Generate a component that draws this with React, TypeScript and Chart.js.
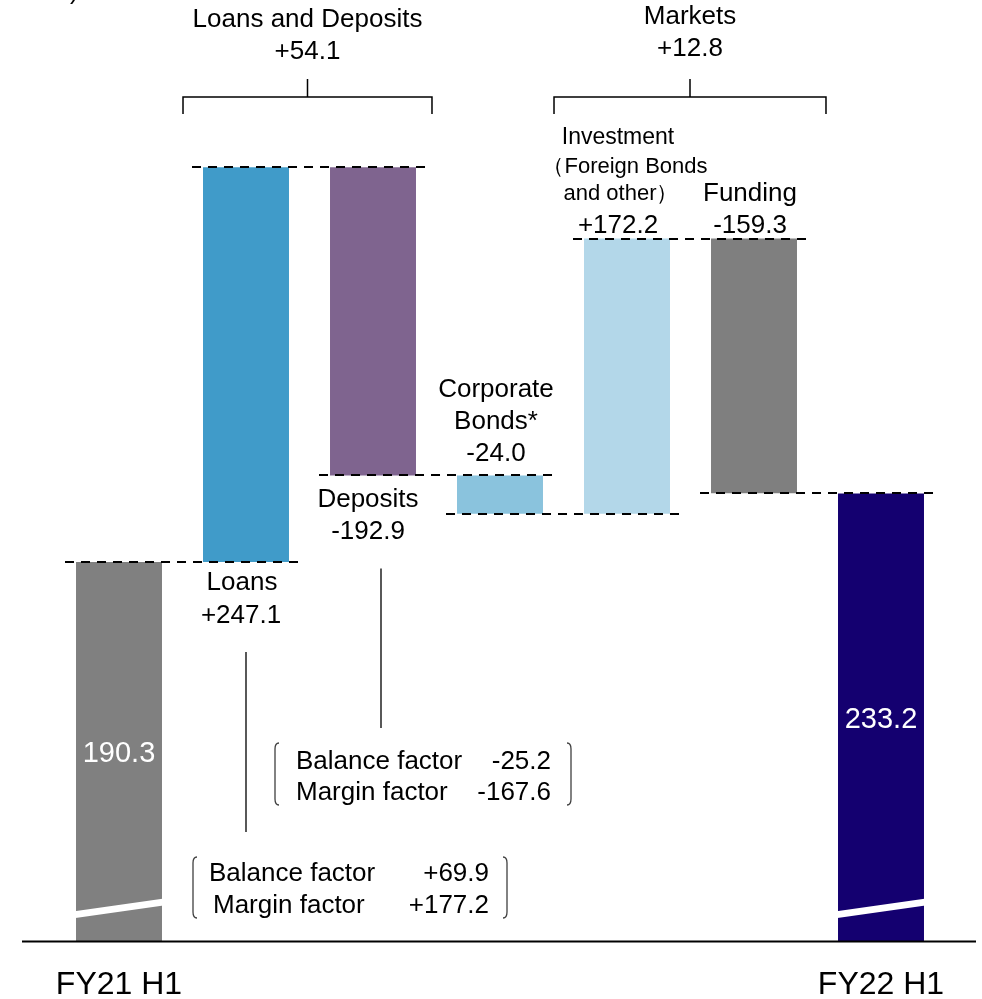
import React, { useEffect, useRef } from 'react';
import { Chart, registerables } from 'chart.js';

Chart.register(...registerables);

// ---------- data ----------
const categories = ['FY21 H1', 'Loans', 'Deposits', 'Corporate Bonds*', 'Investment (Foreign Bonds and other)', 'Funding', 'FY22 H1'];
const tickLabels = ['FY21 H1', '', '', '', '', '', 'FY22 H1'];
const startValue = 190.3;
const changes = [247.1, -192.9, -24.0, 172.2, -159.3];
const endValue = 233.2;
const groupNames = ['Loans and Deposits', 'Markets'];
const groupTotals = [54.1, 12.8];
const factorNames = ['Balance factor', 'Margin factor'];
const loanFactors = [69.9, 177.2];
const depositFactors = [-25.2, -167.6];
const Y_MIN = -47.2;
const Y_MAX = 542.0;

const barColors = ['#808080', '#409BC9', '#7F648F', '#8AC3DD', '#B3D7E9', '#7F7F7F', '#140070'];

// running levels of the waterfall
const levels: number[] = [startValue];
changes.forEach((c) => levels.push(Math.round((levels[levels.length - 1] + c) * 10) / 10));
const barData: [number, number][] = [
  [Y_MIN, startValue],
  ...changes.map((c, i) => [levels[i], levels[i + 1]] as [number, number]),
  [Y_MIN, endValue],
];

const fmt = (v: number) => (v > 0 ? '+' : '') + v.toFixed(1);
const FONT = '"Liberation Sans", Arial, Helvetica, sans-serif';
const MAIN = 26;

function text(ctx: CanvasRenderingContext2D, s: string, x: number, y: number, size: number, align: CanvasTextAlign = 'center', color = '#000') {
  ctx.save();
  ctx.font = `${size}px ${FONT}`;
  ctx.fillStyle = color;
  ctx.textAlign = align;
  ctx.textBaseline = 'middle';
  ctx.fillText(s, x, y);
  ctx.restore();
}

function bracket(ctx: CanvasRenderingContext2D, x: number, top: number, bottom: number, dir: number) {
  ctx.save();
  ctx.strokeStyle = '#404040';
  ctx.lineWidth = 1.3;
  ctx.beginPath();
  ctx.moveTo(x + 4 * dir, top);
  ctx.quadraticCurveTo(x, top, x, top + 6);
  ctx.lineTo(x, bottom - 6);
  ctx.quadraticCurveTo(x, bottom, x + 4 * dir, bottom);
  ctx.stroke();
  ctx.restore();
}

const annotate = {
  id: 'annotate',
  afterDatasetsDraw(chart: any) {
    const ctx: CanvasRenderingContext2D = chart.ctx;
    const ys = chart.scales.y;
    const area = chart.chartArea;
    const bars = chart.getDatasetMeta(0).data as any[];
    const cx = bars.map((b) => b.x);
    const w = bars[0].width;
    const py = (v: number) => ys.getPixelForValue(v);

    // baseline
    ctx.save();
    ctx.strokeStyle = '#000';
    ctx.lineWidth = 2;
    ctx.beginPath();
    ctx.moveTo(22, area.bottom);
    ctx.lineTo(976, area.bottom);
    ctx.stroke();
    ctx.restore();

    // break marks on the total bars
    [0, 6].forEach((i) => {
      ctx.save();
      ctx.strokeStyle = '#fff';
      ctx.lineWidth = 7;
      ctx.beginPath();
      ctx.moveTo(cx[i] - w / 2 - 1, area.bottom - 27);
      ctx.lineTo(cx[i] + w / 2 + 1, area.bottom - 39.5);
      ctx.stroke();
      ctx.restore();
    });

    // dashed connectors
    ctx.save();
    ctx.strokeStyle = '#000';
    ctx.lineWidth = 2;
    ctx.setLineDash([9, 7]);
    for (let i = 0; i < 6; i++) {
      const lvl = i === 5 ? endValue : levels[i];
      const y = Math.round(py(lvl));
      ctx.beginPath();
      ctx.moveTo(cx[i] - w / 2 - 11, y);
      ctx.lineTo(cx[i + 1] + w / 2 + 10, y);
      ctx.stroke();
    }
    ctx.restore();

    // values inside total bars
    text(ctx, startValue.toFixed(1), cx[0], 754, 29, 'center', '#fff');
    text(ctx, endValue.toFixed(1), cx[6], 720, 29, 'center', '#fff');

    // bar labels
    const loansBottom = py(levels[0]);
    text(ctx, 'Loans', cx[1] - 4, loansBottom + 21, MAIN);
    text(ctx, fmt(changes[0]), cx[1] - 5, loansBottom + 54, MAIN);

    const depBottom = py(levels[2]);
    text(ctx, 'Deposits', cx[2] - 5, depBottom + 24, MAIN);
    text(ctx, fmt(changes[1]), cx[2] - 5, depBottom + 56, MAIN);

    const corpTop = py(levels[2]);
    text(ctx, 'Corporate', cx[3] - 4, corpTop - 86, MAIN);
    text(ctx, 'Bonds*', cx[3] - 4, corpTop - 54, MAIN);
    text(ctx, fmt(changes[2]), cx[3] - 4, corpTop - 22, MAIN);

    const invTop = py(levels[4]);
    text(ctx, 'Investment', cx[4] - 9, invTop - 101, 23);
    text(ctx, '（Foreign Bonds', cx[4] - 2, invTop - 72, 22);
    text(ctx, 'and other）', cx[4] - 6, invTop - 45, 22);
    text(ctx, fmt(changes[3]), cx[4] - 9, invTop - 13, MAIN);

    text(ctx, 'Funding', cx[5] - 4, invTop - 45, MAIN);
    text(ctx, fmt(changes[4]), cx[5] - 4, invTop - 13, MAIN);

    // group headings and brackets
    const groups = [
      { l: cx[1] - w / 2 - 20, r: cx[2] + w / 2 + 16, ty: 20 },
      { l: cx[4] - w / 2 - 30, r: cx[5] + w / 2 + 29, ty: 17 },
    ];
    groups.forEach((g, k) => {
      const mid = (g.l + g.r) / 2;
      text(ctx, groupNames[k], mid, g.ty, MAIN);
      text(ctx, fmt(groupTotals[k]), mid, g.ty + 32, MAIN);
      ctx.save();
      ctx.strokeStyle = '#000';
      ctx.lineWidth = 1.5;
      ctx.beginPath();
      ctx.moveTo(g.l, 114);
      ctx.lineTo(g.l, 97);
      ctx.lineTo(g.r, 97);
      ctx.lineTo(g.r, 114);
      ctx.moveTo(mid, 97);
      ctx.lineTo(mid, 79);
      ctx.stroke();
      ctx.restore();
    });

    // leader lines
    ctx.save();
    ctx.strokeStyle = '#000';
    ctx.lineWidth = 1.3;
    ctx.beginPath();
    ctx.moveTo(cx[2] + 8, depBottom + 93);
    ctx.lineTo(cx[2] + 8, 728);
    ctx.moveTo(cx[1], loansBottom + 90);
    ctx.lineTo(cx[1], 832);
    ctx.stroke();
    ctx.restore();

    // factor boxes
    bracket(ctx, 275, 743, 805, 1);
    bracket(ctx, 571, 743, 805, -1);
    text(ctx, factorNames[0], 296, 762, MAIN, 'left');
    text(ctx, factorNames[1], 296, 793, MAIN, 'left');
    text(ctx, fmt(depositFactors[0]), 551, 762, MAIN, 'right');
    text(ctx, fmt(depositFactors[1]), 551, 793, MAIN, 'right');

    bracket(ctx, 193, 857, 918, 1);
    bracket(ctx, 507, 857, 918, -1);
    text(ctx, factorNames[0], 209, 874, MAIN, 'left');
    text(ctx, factorNames[1], 213, 906, MAIN, 'left');
    text(ctx, fmt(loanFactors[0]), 489, 874, MAIN, 'right');
    text(ctx, fmt(loanFactors[1]), 489, 906, MAIN, 'right');

    // clipped unit label fragment at the top-left
    ctx.save();
    ctx.font = `25px ${FONT}`;
    ctx.fillStyle = '#000';
    ctx.textAlign = 'left';
    ctx.textBaseline = 'alphabetic';
    ctx.fillText(')', 70, -1);
    ctx.restore();
  },
};

export default function App() {
  const ref = useRef<HTMLCanvasElement>(null);
  useEffect(() => {
    if (!ref.current) return;
    const chart = new Chart(ref.current, {
      type: 'bar',
      data: {
        labels: categories,
        datasets: [
          {
            data: barData as any,
            backgroundColor: barColors,
            borderWidth: 0,
            barPercentage: 0.677,
            categoryPercentage: 1,
          },
        ],
      },
      options: {
        responsive: false,
        animation: false,
        devicePixelRatio: 1,
        layout: { padding: { left: 55.5, right: 37.5, top: 0, bottom: -29 } },
        plugins: { legend: { display: false }, tooltip: { enabled: false }, title: { display: false } },
        scales: {
          x: {
            grid: { display: false, drawTicks: false },
            border: { display: false },
            ticks: {
              autoSkip: false,
              maxRotation: 0,
              padding: 24,
              color: '#000',
              font: { family: FONT, size: 32 },
              callback: (_v: any, i: number) => tickLabels[i],
            },
          },
          y: { display: false, min: Y_MIN, max: Y_MAX },
        },
      },
      plugins: [annotate],
    });
    return () => chart.destroy();
  }, []);
  return (
    <div style={{ position: 'absolute', left: 0, top: 0, width: 982, height: 999, background: '#fff' }}>
      <canvas ref={ref} width={982} height={999} style={{ width: 982, height: 999, display: 'block' }} />
    </div>
  );
}
